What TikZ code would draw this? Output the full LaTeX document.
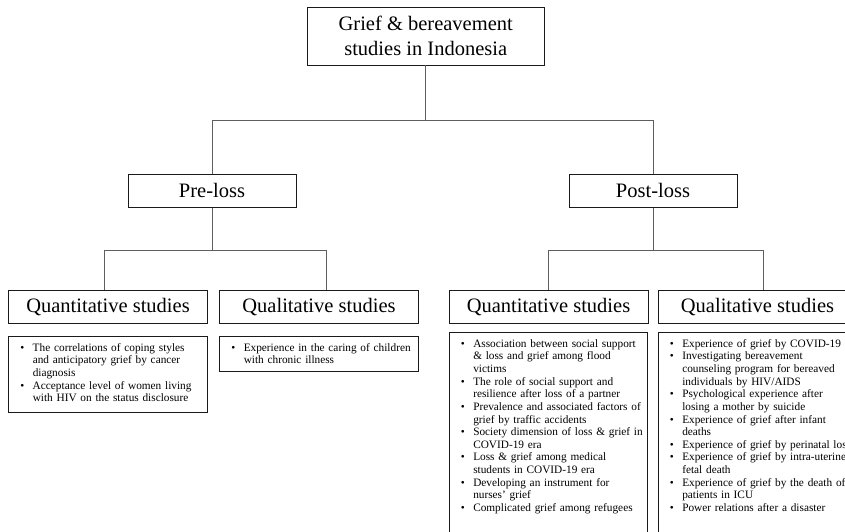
\documentclass[tikz,border=0pt]{standalone}
\usepackage{fontspec}
\setmainfont{Liberation Serif}
\usepackage{xcolor}
\definecolor{dnxam}{HTML}{5E5E5E}
\definecolor{dnden}{HTML}{1A1A1A}
\def\mauke{dnxam}
\def\mauvien{dnden}
\usepackage{tikz}
\usetikzlibrary{calc,positioning}
\newcommand{\muc}[1]{\makebox[19pt][l]{\hspace{6.5pt}\textbullet}#1}
\newcommand{\tiep}[1]{\hspace*{19pt}#1}

\begin{document}
\begin{tikzpicture}[x=1pt,y=-1pt,declare function={%
			ybar=120;
			ynhanh=250.7;
			}
			]%
			\tikzset{
				khung/.style={draw=\mauvien,line width=0.8pt,inner sep=0pt,align=center,font=\fontsize{20.5}{25}\selectfont},
				khunggoc/.style={khung,minimum width=237pt,minimum height=58pt},
				khungnhanh/.style={khung,minimum width=168pt,minimum height=33pt},
				khungloai/.style={khung,minimum width=199pt,minimum height=32.5pt},
				khungds/.style={draw=\mauvien,line width=0.8pt,anchor=north,inner xsep=5pt,inner ysep=0pt,text width=188.5pt,align=left,text height=14.7pt,font=\fontsize{11.3}{12.65}\selectfont},
				duongnoi/.style={draw=\mauke,line width=0.8pt}
			}
		\useasboundingbox (0,0) rectangle (845,532);
		\clip (0,0) rectangle (845,532);
		%%%Gốc
		\path (425.7,36) node[khunggoc] (ng) {Grief \& bereavement\\studies in Indonesia};
		%%%Hai nhánh
		\path (212,190.8) node[khungnhanh] (nt) {Pre-loss};
		\path (653,190.8) node[khungnhanh] (ns) {Post-loss};
		%%%Loại nghiên cứu
		\path (108,306.9) node[khungloai] (nqa) {Quantitative studies};
		\path (319,306.9) node[khungloai] (nla) {Qualitative studies};
		\path (548.5,306.9) node[khungloai] (nqb) {Quantitative studies};
		\path (757.5,306.9) node[khungloai] (nlb) {Qualitative studies};
		%%%Danh sách
		\path (108,336) node[khungds,text depth=61pt] (da) {%
			\muc{The correlations of coping styles}\\
			\tiep{and anticipatory grief by cancer}\\
			\tiep{diagnosis}\\
			\muc{Acceptance level of women living}\\
			\tiep{with HIV on the status disclosure}};
		\path (319,336) node[khungds,text depth=20pt] (db) {%
			\muc{Experience in the caring of children}\\
			\tiep{with chronic illness}};
		\path (548.5,332) node[khungds,text depth=220pt] (dc) {%
			\muc{Association between social support}\\
			\tiep{\& loss and grief among flood}\\
			\tiep{victims}\\
			\muc{The role of social support and}\\
			\tiep{resilience after loss of a partner}\\
			\muc{Prevalence and associated factors of}\\
			\tiep{grief by traffic accidents}\\
			\muc{Society dimension of loss \& grief in}\\
			\tiep{COVID-19 era}\\
			\muc{Loss \& grief among medical}\\
			\tiep{students in COVID-19 era}\\
			\muc{Developing an instrument for}\\
			\tiep{nurses’ grief}\\
			\muc{Complicated grief among refugees}};
		\path (757.5,332) node[khungds,text depth=220pt] (dd) {%
			\muc{Experience of grief by COVID-19}\\
			\muc{Investigating bereavement}\\
			\tiep{counseling program for bereaved}\\
			\tiep{individuals by HIV/AIDS}\\
			\muc{Psychological experience after}\\
			\tiep{losing a mother by suicide}\\
			\muc{Experience of grief after infant}\\
			\tiep{deaths}\\
			\muc{Experience of grief by perinatal loss}\\
			\muc{Experience of grief by intra-uterine}\\
			\tiep{fetal death}\\
			\muc{Experience of grief by the death of}\\
			\tiep{patients in ICU}\\
			\muc{Power relations after a disaster}};
		%%%Đường nối
		\coordinate (c1) at (0,ybar);
		\coordinate (c2) at (0,ynhanh);
		\draw[duongnoi] (ng.south) -- (ng.south|-c1) -| (nt.north);
		\draw[duongnoi] (ng.south|-c1) -| (ns.north);
		\draw[duongnoi] (nt.south) -- (nt.south|-c2) -| ([xshift=-4pt]nqa.north);
		\draw[duongnoi] (nt.south|-c2) -| ([xshift=7pt]nla.north);
		\draw[duongnoi] (ns.south) -- (ns.south|-c2) -| (nqb.north);
		\draw[duongnoi] (ns.south|-c2) -| ([xshift=5.5pt]nlb.north);
	\end{tikzpicture}
\end{document}
